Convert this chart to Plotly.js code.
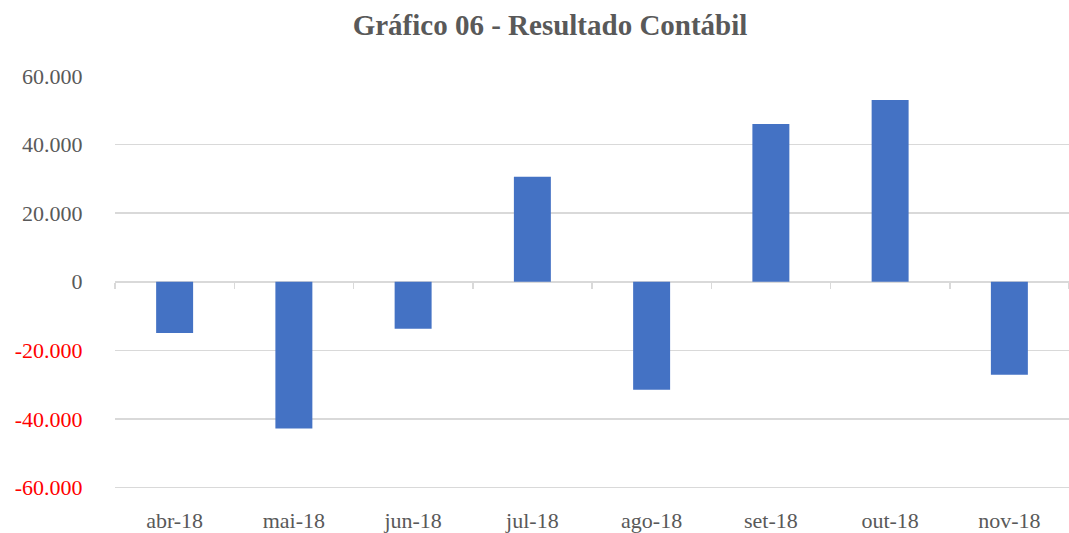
<!DOCTYPE html>
<html>
<head>
<meta charset="utf-8">
<script src="https://cdn.plot.ly/plotly-3.0.1.min.js"></script>
<style>html,body{margin:0;padding:0;background:#fff;}#chart{width:1069px;height:533px;}</style>
</head>
<body>
<div id="chart"></div>
<script>
const categories = ["abr-18","mai-18","jun-18","jul-18","ago-18","set-18","out-18","nov-18"];
const resultado = [-14900, -42800, -13700, 30600, -31500, 46000, 53000, -27100];
const yTickValues = [60000, 40000, 20000, 0, -20000, -40000, -60000];
const yTickLabels = ["60.000","40.000","20.000","0","-20.000","-40.000","-60.000"];

const FONT = "Liberation Serif, Times New Roman, serif";
const GREY = "#595959";

const yMin = -61000, yMax = 60000;
const ticktext = yTickLabels.map((t, i) => yTickValues[i] < 0 ? '<span style="color:#ff0000">' + t + '</span>' : t);

const data = [
  {type: "bar", x: categories, y: resultado, marker: {color: "#4472C4", line: {color: "#4472C4", width: 0}}, hoverinfo: "x+y"},
  {type: "scatter", mode: "markers", x: categories, y: resultado, xaxis: "x2", yaxis: "y", marker: {opacity: 0}, hoverinfo: "skip", showlegend: false}
];

const layout = {
  width: 1069, height: 533,
  margin: {l: 115, r: 0, t: 76, b: 42},
  paper_bgcolor: "#fff", plot_bgcolor: "#fff",
  showlegend: false,
  bargap: 0.69,
  font: {family: FONT, color: GREY, size: 22},
  title: {text: "<b>Gráfico 06 - Resultado Contábil</b>", font: {family: FONT, size: 29, color: GREY},
          x: 550/1069, xanchor: "center", xref: "container", y: 1 - 25/533, yref: "container", yanchor: "middle"},
  xaxis: {type: "category", categoryarray: categories, categoryorder: "array", showgrid: false, zeroline: false, showline: false,
          ticks: "outside", ticklen: 10, tickcolor: "rgba(0,0,0,0)", tickfont: {family: FONT, size: 22, color: GREY}},
  xaxis2: {type: "category", categoryarray: categories, categoryorder: "array", overlaying: "x", matches: "x", anchor: "free",
           position: (0 - yMin) / (yMax - yMin), layer: "below traces",
           showline: true, linecolor: "#d9d9d9", linewidth: 1.5, ticks: "outside", tickson: "boundaries", ticklen: 6, tickwidth: 1.5,
           tickcolor: "#d9d9d9", showticklabels: false, showgrid: false, zeroline: false},
  yaxis: {range: [yMin, yMax], tickvals: yTickValues, ticktext: ticktext, showgrid: true, gridcolor: "#d9d9d9", gridwidth: 1.5,
          zeroline: false, showline: false, ticks: "outside", ticklen: 27, tickcolor: "rgba(0,0,0,0)",
          tickfont: {family: FONT, size: 22, color: GREY}}
};

Plotly.newPlot("chart", data, layout, {displayModeBar: false, staticPlot: true});
</script>
</body>
</html>
